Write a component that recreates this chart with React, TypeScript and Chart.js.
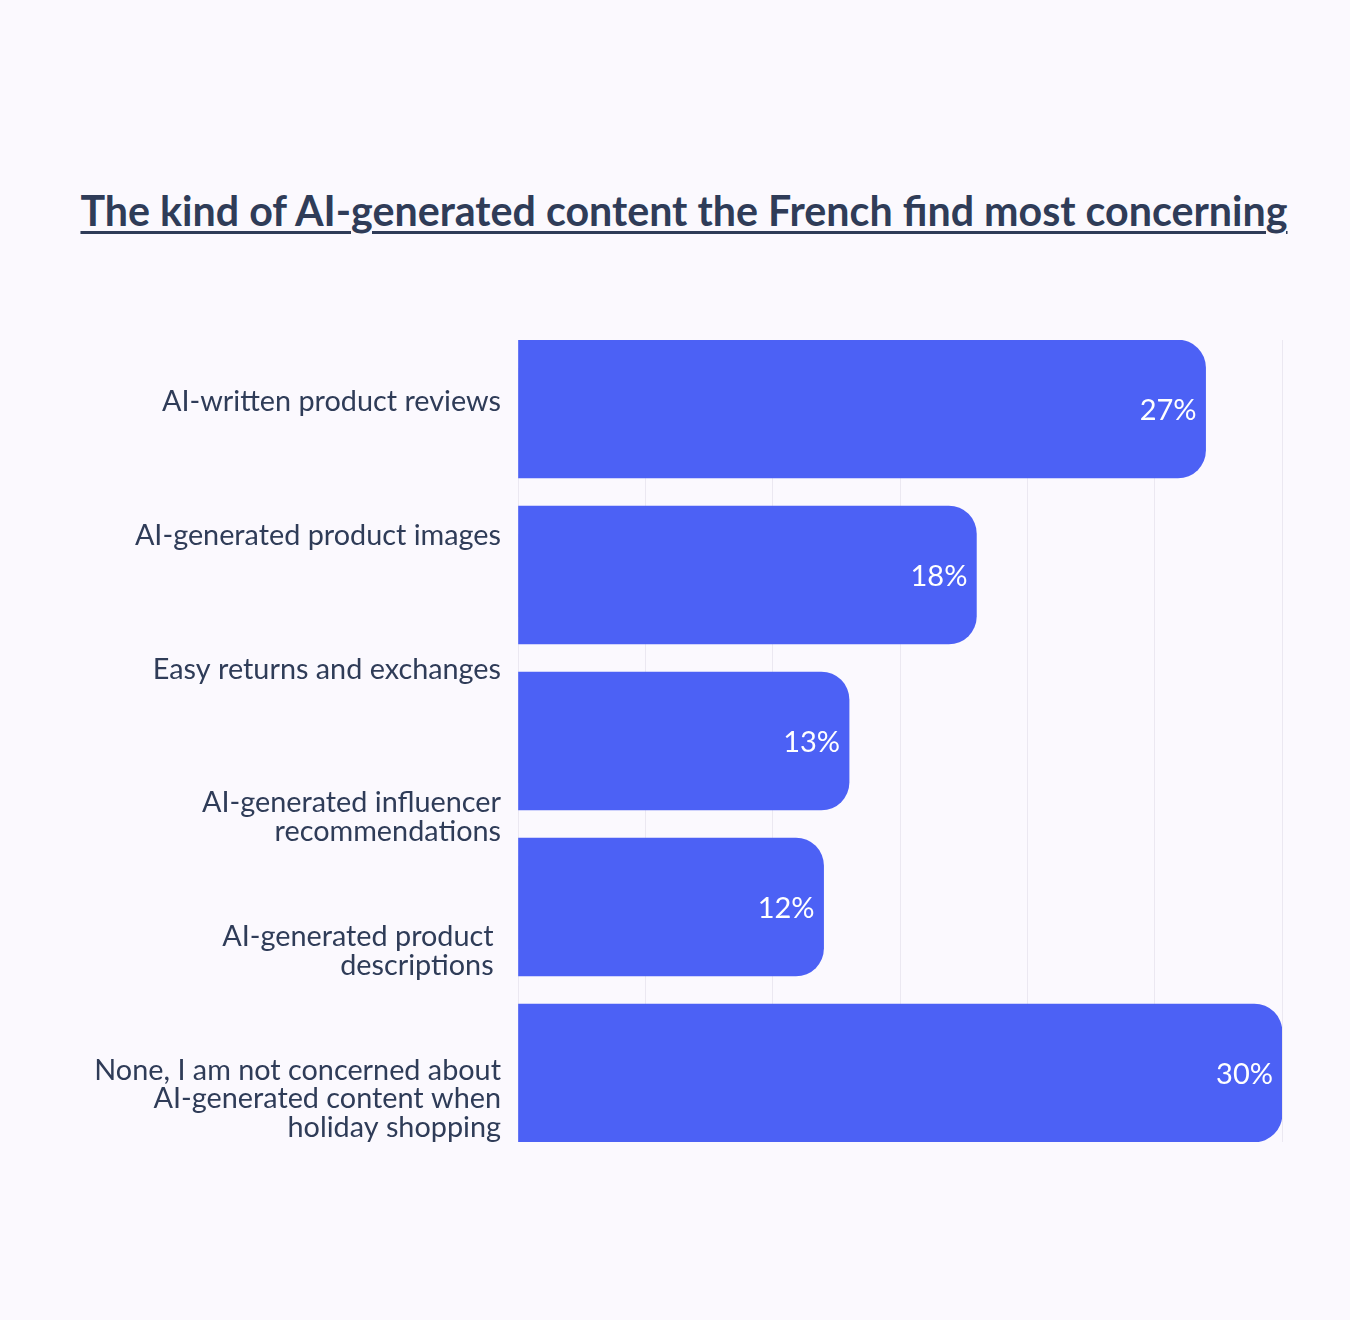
import { useRef, useEffect } from 'react'
import { Chart, registerables } from 'chart.js'
Chart.register(...registerables)

const TITLE = 'The kind of AI-generated content the French find most concerning'

// category labels (one entry per line)
const LABELS: string[][] = [
  ['AI-written product reviews'],
  ['AI-generated product images'],
  ['Easy returns and exchanges'],
  ['AI-generated influencer', 'recommendations'],
  ['AI-generated product ', 'descriptions '],
  ['None, I am not concerned about', 'AI-generated content when', 'holiday shopping'],
]

// bar values (%)
const VALUES = [27, 18, 13, 12, 30]

const X_TICKS = [0, 5, 10, 15, 20, 25, 30]

const BG = '#fbf9fe'
const BAR = '#4c61f5'
const INK = '#2f3c58'
const GRID = '#ebe8f1'
const FONT = 'Lato, "Open Sans", sans-serif'

// first line of each label sits on its tick: pad with blank lines above
const padLines = (l: string[]) => [...Array(l.length - 1).fill(''), ...l]

// pin a linear axis to an exact range (no nice rounding)
const pin = (min: number, max: number) => (s: any) => { s.min = min; s.max = max }

const valueLabels = {
  id: 'valueLabels',
  afterDatasetsDraw(chart: Chart) {
    const ctx = chart.ctx
    const meta = chart.getDatasetMeta(0)
    ctx.save()
    ctx.fillStyle = '#ffffff'
    ctx.font = `29px ${FONT}`
    ctx.textAlign = 'right'
    ctx.textBaseline = 'middle'
    meta.data.forEach((bar: any, i: number) => {
      ctx.fillText(VALUES[i] + '%', bar.x - 9, bar.y + 2)
    })
    ctx.restore()
  },
}

export default function App() {
  const ref = useRef<HTMLCanvasElement>(null)
  const inst = useRef<Chart | null>(null)

  useEffect(() => {
    document.body.style.margin = '0'
    document.body.style.background = BG
    if (!ref.current) return
    inst.current?.destroy()
    inst.current = new Chart(ref.current, {
      type: 'bar',
      data: {
        datasets: [{
          data: VALUES.map((v, i) => ({ x: v, y: i })) as any,
          yAxisID: 'y',
          backgroundColor: BAR,
          borderWidth: 0,
          borderRadius: 28,
          borderSkipped: 'start',
          barThickness: 138,
        }],
      },
      options: {
        indexAxis: 'y',
        animation: false,
        responsive: true,
        maintainAspectRatio: false,
        layout: { padding: { top: 340, bottom: 178, right: 68, left: 0 } },
        plugins: { legend: { display: false }, tooltip: { enabled: false } },
        scales: {
          x: {
            type: 'linear',
            min: X_TICKS[0],
            max: X_TICKS[X_TICKS.length - 1],
            afterBuildTicks: (s: any) => { s.ticks = X_TICKS.map(v => ({ value: v })) },
            ticks: { display: false },
            grid: { color: GRID, lineWidth: 1, drawTicks: false },
            border: { display: false },
            afterFit: (s: any) => { s.height = 0 },
          },
          y: {
            type: 'linear',
            display: false,
            reverse: true,
            offset: false,
            bounds: 'data',
            min: -0.4157,
            max: 4.4157,
            afterBuildTicks: pin(-0.4157, 4.4157),
          },
          yl: {
            type: 'linear',
            position: 'left',
            reverse: true,
            offset: false,
            bounds: 'data',
            min: -0.4604,
            max: 5.533,
            afterBuildTicks: (s: any) => {
              s.ticks = LABELS.map((_, i) => ({ value: i }))
              pin(-0.4604, 5.533)(s)
            },
            afterFit: (s: any) => { s.width = 518 },
            grid: { display: false, drawTicks: false },
            border: { display: false },
            ticks: {
              autoSkip: false,
              padding: 17,
              color: INK,
              font: { family: FONT, size: 28.8, lineHeight: 0.985 },
              callback: (v: any) => padLines(LABELS[v] ?? []),
            },
          },
        },
      },
      plugins: [valueLabels],
    })
    return () => inst.current?.destroy()
  }, [])

  return (
    <div style={{ position: 'absolute', top: 0, left: 0, width: 1350, height: 1320, background: BG }}>
      <div style={{
        position: 'absolute', top: 190, left: 9, width: 1350, textAlign: 'center', whiteSpace: 'nowrap',
        fontFamily: FONT, fontWeight: 700, fontSize: 41.2, lineHeight: '41px', color: INK,
        textDecoration: 'underline', textDecorationThickness: 3, textUnderlineOffset: 5,
      }}>
        {TITLE}
      </div>
      <div style={{ position: 'absolute', top: 0, left: 0, width: 1350, height: 1320 }}>
        <canvas ref={ref} />
      </div>
    </div>
  )
}
